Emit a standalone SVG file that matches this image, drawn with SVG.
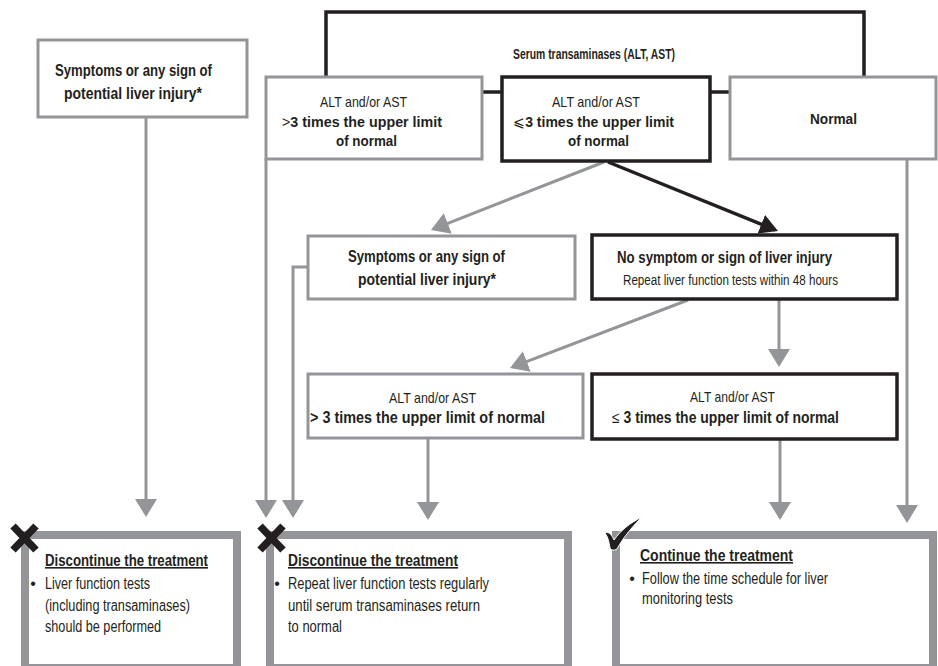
<svg xmlns="http://www.w3.org/2000/svg" width="938" height="666" viewBox="0 0 938 666">
<style>
.t{font-family:"Liberation Sans Narrow","Liberation Sans",Arial,sans-serif;fill:#231f20}
.b{font-weight:bold}
.n{font-weight:normal}
.f15{font-size:15px}
.f14{font-size:14px}
.f16{font-size:16px}
.gbox{fill:#fff;stroke:#939598;stroke-width:3}
.kbox{fill:#fff;stroke:#231f20;stroke-width:3.5}
.obox{fill:#fff;stroke:#939598;stroke-width:8}
.gline{stroke:#939598;stroke-width:3;fill:none}
.kline{stroke:#231f20;stroke-width:3.5;fill:none}
.u{text-decoration:underline}
.mark{stroke:#231f20;stroke-width:7.5;fill:none}
</style>
<defs>
<marker id="ag" markerUnits="userSpaceOnUse" markerWidth="18" markerHeight="22" viewBox="0 0 18 22" refX="15" refY="11" orient="auto"><path d="M0,0 L18,11 L0,22 Z" fill="#939598"/></marker>
<marker id="ak" markerUnits="userSpaceOnUse" markerWidth="18" markerHeight="20" viewBox="0 0 18 20" refX="15" refY="10" orient="auto"><path d="M0,0 L18,10 L0,20 Z" fill="#231f20"/></marker>
</defs>
<rect x="0" y="0" width="938" height="666" fill="#fff"/>

<g id="connectors">
<path class="kline" d="M326,77 V12 H864 V77"/>
<line class="kline" x1="482" y1="92" x2="502" y2="92"/>
<line class="kline" x1="710" y1="92" x2="730" y2="92"/>
<line class="gline" x1="604" y1="162" x2="433.8" y2="228.9" marker-end="url(#ag)"/>
<line class="kline" x1="608" y1="162" x2="775.2" y2="229.9" stroke-width="3" marker-end="url(#ak)"/>
<line class="gline" x1="688" y1="300" x2="512.8" y2="366.9" marker-end="url(#ag)"/>
<line class="gline" x1="779" y1="300" x2="779" y2="364" marker-end="url(#ag)"/>
<line class="gline" x1="146" y1="118" x2="146" y2="514" marker-end="url(#ag)"/>
<line class="gline" x1="266" y1="159" x2="266" y2="515" marker-end="url(#ag)"/>
<path class="gline" d="M308,267 H293 V515" marker-end="url(#ag)"/>
<line class="gline" x1="428" y1="439" x2="428" y2="517" marker-end="url(#ag)"/>
<line class="gline" x1="780" y1="440" x2="780" y2="517" marker-end="url(#ag)"/>
<line class="gline" x1="907" y1="159" x2="907" y2="520" marker-end="url(#ag)"/>
</g>

<g id="serum">
<text class="t b f15" x="513" y="59" textLength="162" lengthAdjust="spacingAndGlyphs">Serum transaminases (ALT, AST)</text>
</g>

<g id="symptoms-top">
<rect class="gbox" x="38" y="40" width="209" height="77"/>
<text class="t b f16" x="55" y="76" textLength="157" lengthAdjust="spacingAndGlyphs">Symptoms or any sign of</text>
<text class="t b f16" x="64" y="99" textLength="138" lengthAdjust="spacingAndGlyphs">potential liver injury*</text>
</g>

<g id="gt3-top">
<rect class="gbox" x="266" y="77" width="216" height="82"/>
<text class="t f15" x="320" y="107" textLength="87" lengthAdjust="spacingAndGlyphs">ALT and/or AST</text>
<text class="t b f15" x="282" y="127" textLength="160" lengthAdjust="spacingAndGlyphs"><tspan class="n">&gt;</tspan>3 times the upper limit</text>
<text class="t b f15" x="336" y="146" textLength="61" lengthAdjust="spacingAndGlyphs">of normal</text>
</g>

<g id="le3-top">
<rect class="kbox" x="502" y="77" width="208" height="84"/>
<text class="t f15" x="552" y="107" textLength="88" lengthAdjust="spacingAndGlyphs">ALT and/or AST</text>
<text class="t b f15" x="513" y="127" textLength="161" lengthAdjust="spacingAndGlyphs"><tspan class="n">⩽</tspan>3 times the upper limit</text>
<text class="t b f15" x="568" y="146" textLength="61" lengthAdjust="spacingAndGlyphs">of normal</text>
</g>

<g id="normal">
<rect class="gbox" x="730" y="77" width="206" height="82"/>
<text class="t b f15" x="810" y="124" textLength="47" lengthAdjust="spacingAndGlyphs">Normal</text>
</g>

<g id="symptoms-mid">
<rect class="gbox" x="308" y="236" width="267" height="63"/>
<text class="t b f16" x="348" y="262" textLength="157" lengthAdjust="spacingAndGlyphs">Symptoms or any sign of</text>
<text class="t b f16" x="358" y="285" textLength="138" lengthAdjust="spacingAndGlyphs">potential liver injury*</text>
</g>

<g id="no-symptom">
<rect class="kbox" x="592" y="235" width="305" height="64"/>
<text class="t b f16" x="617" y="263" textLength="215" lengthAdjust="spacingAndGlyphs">No symptom or sign of liver injury</text>
<text class="t f14" x="623" y="285" textLength="215" lengthAdjust="spacingAndGlyphs">Repeat liver function tests within 48 hours</text>
</g>

<g id="gt3-low">
<rect class="gbox" x="308" y="374" width="275" height="64"/>
<text class="t f15" x="389" y="403" textLength="87" lengthAdjust="spacingAndGlyphs">ALT and/or AST</text>
<text class="t b f16" x="310" y="423" textLength="235" lengthAdjust="spacingAndGlyphs">&gt; 3 times the upper limit of normal</text>
</g>

<g id="le3-low">
<rect class="kbox" x="592" y="374" width="305" height="65"/>
<text class="t f15" x="690" y="402" textLength="85" lengthAdjust="spacingAndGlyphs">ALT and/or AST</text>
<text class="t b f16" x="612" y="423" textLength="227" lengthAdjust="spacingAndGlyphs"><tspan class="n">≤</tspan> 3 times the upper limit of normal</text>
</g>

<g id="discontinue-1">
<rect class="obox" x="25" y="535" width="212" height="133"/>
<text class="t b f16 u" x="45" y="566" textLength="163" lengthAdjust="spacingAndGlyphs">Discontinue the treatment </text>
<text class="t f16" x="33" y="589" text-anchor="middle">•</text>
<text class="t f16" x="45" y="589" textLength="105" lengthAdjust="spacingAndGlyphs">Liver function tests</text>
<text class="t f16" x="45" y="611" textLength="145" lengthAdjust="spacingAndGlyphs">(including transaminases)</text>
<text class="t f16" x="45" y="632" textLength="116" lengthAdjust="spacingAndGlyphs">should be performed</text>
<path class="mark" d="M13,526 L36,550 M36,526 L13,550"/>
</g>

<g id="discontinue-2">
<rect class="obox" x="270" y="535" width="298" height="133"/>
<text class="t b f16 u" x="288" y="566" textLength="170" lengthAdjust="spacingAndGlyphs">Discontinue the treatment</text>
<text class="t f16" x="277" y="589" text-anchor="middle">•</text>
<text class="t f16" x="288" y="589" textLength="201" lengthAdjust="spacingAndGlyphs">Repeat liver function tests regularly</text>
<text class="t f16" x="288" y="611" textLength="192" lengthAdjust="spacingAndGlyphs">until serum transaminases return</text>
<text class="t f16" x="288" y="632" textLength="54" lengthAdjust="spacingAndGlyphs">to normal</text>
<path class="mark" d="M260,526 L283,550 M283,526 L260,550"/>
</g>

<g id="continue">
<rect class="obox" x="616" y="535" width="317" height="133"/>
<text class="t b f16 u" x="640" y="561" textLength="153" lengthAdjust="spacingAndGlyphs">Continue the treatment</text>
<text class="t f16" x="632" y="584" text-anchor="middle">•</text>
<text class="t f16" x="642" y="584" textLength="186" lengthAdjust="spacingAndGlyphs">Follow the time schedule for liver</text>
<text class="t f16" x="642" y="604" textLength="91" lengthAdjust="spacingAndGlyphs">monitoring tests</text>
<path d="M605,533 C609,531 612,535 614,540 C621,530 630,523 642,517 C634,525 624,536 617,549 C614,551 611,550 610,548 C609,542 608,537 605,533 Z" fill="#231f20" stroke="#fff" stroke-width="1"/>
</g>
</svg>
